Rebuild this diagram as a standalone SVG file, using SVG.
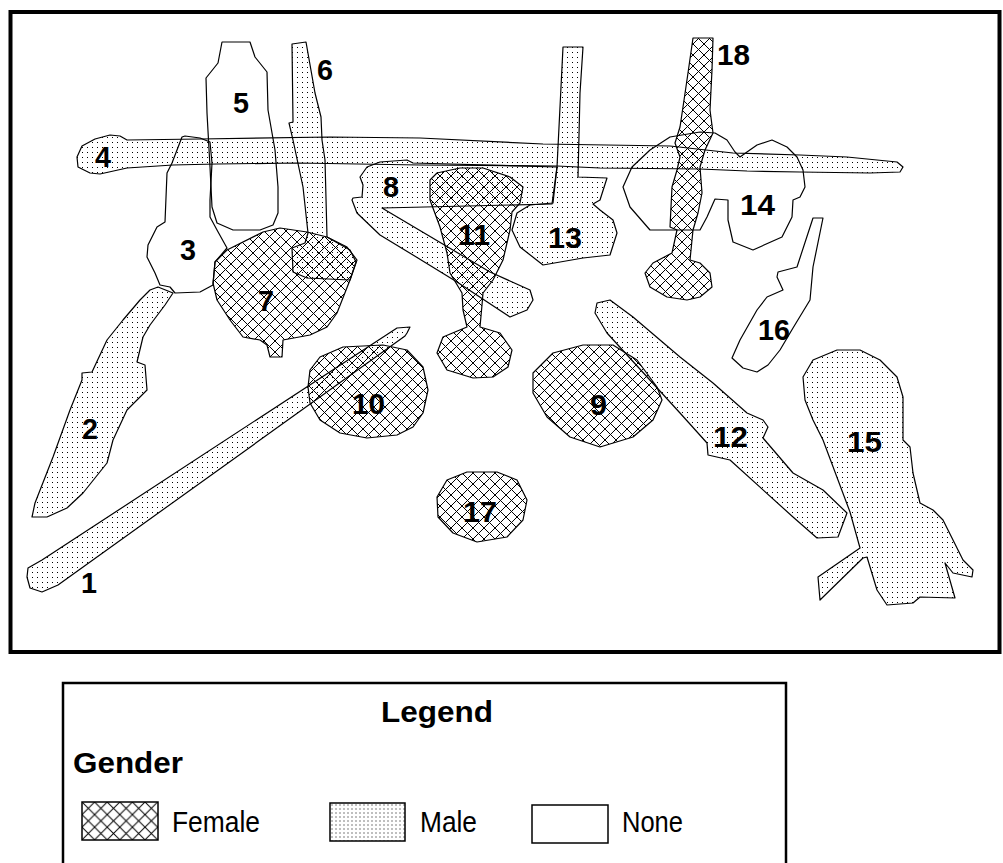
<svg xmlns="http://www.w3.org/2000/svg" width="1003" height="863" viewBox="0 0 1003 863">
<style>
.m{fill:url(#male);stroke:#000;stroke-width:1.2;stroke-linejoin:round}
.f{fill:url(#female);stroke:#000;stroke-width:1.2;stroke-linejoin:round}
.n{fill:none;stroke:#000;stroke-width:1.2;stroke-linejoin:round}
.lbl{font-family:"Liberation Sans",Arial,sans-serif;font-weight:bold;font-size:30px;fill:#000}
.lg{font-family:"Liberation Sans",Arial,sans-serif;font-size:29px;fill:#000}
</style>
<defs>
<pattern id="male" patternUnits="userSpaceOnUse" width="5" height="5">
<rect x="2" y="2" width="1" height="1" fill="#000"/>
</pattern>
<pattern id="male2" patternUnits="userSpaceOnUse" x="330" y="803" width="4" height="4">
<rect x="1.5" y="1.5" width="1" height="1" fill="#000"/>
</pattern>
<pattern id="female" patternUnits="userSpaceOnUse" width="11" height="11">
<path d="M-1,-1 L12,12 M12,-1 L-1,12" stroke="#000" stroke-width="1" fill="none"/>
</pattern>
<pattern id="female2" patternUnits="userSpaceOnUse" x="82" y="802" width="12.6" height="12.6">
<path d="M-1,-1 L13.6,13.6 M13.6,-1 L-1,13.6" stroke="#000" stroke-width="1" fill="none"/>
</pattern>
</defs>
<rect width="1003" height="863" fill="#fff"/>
<rect id="frame" x="10.5" y="12" width="989" height="640" fill="none" stroke="#000" stroke-width="4"/>

<g id="burial-4">
<polygon class="m" points="77,157 82,146 95,139 110,135 120,136 127,140 200,139 330,137 420,138 543,144 670,146 733,153 800,155 847,157 877,160 897,162 903,167 900,172 870,173 800,172 747,171 700,169 600,168 557,166 420,165 297,163 217,164 173,165 127,168 100,174 90,173 78,167"/>
<text class="lbl" x="95" y="167" textLength="16" lengthAdjust="spacingAndGlyphs">4</text>
</g>

<g id="burial-5">
<polygon class="n" points="222,42 250,42 255,57 267,72 268,110 275,150 278,187 278,213 273,225 260,230 233,230 217,223 212,207 210,167 207,113 206,78 218,63"/>
<text class="lbl" x="233" y="113" textLength="16" lengthAdjust="spacingAndGlyphs">5</text>
</g>

<g id="burial-3">
<polygon class="n" points="185,136 200,138 210,142 212,163 210,200 210,217 217,230 227,248 215,262 213,285 200,292 175,293 170,287 160,285 155,273 147,257 148,245 157,227 165,222 167,173 172,163 182,137"/>
<text class="lbl" x="180" y="260" textLength="16" lengthAdjust="spacingAndGlyphs">3</text>
</g>

<g id="burial-7">
<polygon class="f" points="227,250 263,232 280,228 307,232 327,237 347,247 357,260 350,280 337,313 327,327 310,335 283,340 282,357 270,357 267,345 260,340 243,337 230,320 217,300 213,283 215,262"/>
<text class="lbl" x="258" y="311" textLength="16" lengthAdjust="spacingAndGlyphs">7</text>
</g>

<g id="burial-6">
<polygon class="m" points="292,44 306,42 315,93 321,117 322,140 325,160 327,237 350,250 356,262 350,280 307,278 293,272 292,248 305,243 308,233 303,187 293,140 289,123 293,122"/>
<text class="lbl" x="317" y="80" textLength="16" lengthAdjust="spacingAndGlyphs">6</text>
</g>

<g id="burial-2">
<polygon class="m" points="158,287 173,293 165,305 150,325 143,337 137,362 145,365 147,390 137,400 127,410 113,440 107,463 83,493 67,508 47,517 32,517 35,503 53,457 70,410 82,380 82,373 92,372 107,340 123,320 140,300 150,290"/>
<text class="lbl" x="82" y="439" textLength="16" lengthAdjust="spacingAndGlyphs">2</text>
</g>

<g id="burial-1">
<polygon class="m" points="27,577 28,568 42,560 397,328 410,327 407,333 405,336 58,585 42,592 30,588"/>
<text class="lbl" x="81" y="593" textLength="16" lengthAdjust="spacingAndGlyphs">1</text>
</g>

<g id="burial-10">
<polygon class="f" points="310,370 320,357 343,347 383,345 407,350 423,367 428,390 423,413 413,427 397,435 367,438 340,433 320,420 310,403 308,387"/>
<text class="lbl" x="352" y="414" textLength="33" lengthAdjust="spacingAndGlyphs">10</text>
</g>

<g id="burial-8">
<polygon class="m" points="352,200 353,198 362,197 363,185 360,177 367,167 380,162 407,160 413,163 557,167 552,204 382,208 490,272 530,290 533,300 527,310 510,317 457,282 413,255 380,235 357,213"/>
<text class="lbl" x="383" y="197" textLength="16" lengthAdjust="spacingAndGlyphs">8</text>
</g>

<g id="burial-13">
<polygon class="m" points="563,47 583,47 580,93 578,177 607,178 600,200 593,204 600,210 613,220 617,233 610,255 583,258 543,265 520,247 512,230 517,213 530,205 553,203 557,167"/>
<text class="lbl" x="548" y="248" textLength="34" lengthAdjust="spacingAndGlyphs">13</text>
</g>

<g id="burial-11">
<polygon class="f" points="430,180 437,173 460,168 483,168 510,177 523,187 520,203 512,212 510,230 503,260 493,280 483,293 482,305 480,327 500,333 512,350 508,367 493,377 473,378 447,370 437,353 443,337 467,327 463,310 462,293 450,273 447,253 440,227 430,200"/>
<text class="lbl" x="458" y="245" textLength="32" lengthAdjust="spacingAndGlyphs">11</text>
</g>

<g id="burial-9">
<polygon class="f" points="533,373 553,353 583,345 613,345 637,360 657,387 662,400 653,420 633,437 600,447 570,437 547,417 533,393"/>
<text class="lbl" x="590" y="415" textLength="17" lengthAdjust="spacingAndGlyphs">9</text>
</g>

<g id="burial-17">
<polygon class="f" points="437,497 447,480 467,472 497,472 517,480 527,500 523,520 507,537 477,542 453,533 438,517"/>
<text class="lbl" x="463" y="522" textLength="34" lengthAdjust="spacingAndGlyphs">17</text>
</g>

<g id="burial-12">
<polygon class="m" points="597,303 610,300 633,317 680,357 713,383 747,413 763,420 768,427 763,438 793,473 823,490 847,513 838,537 817,538 793,517 730,460 708,455 707,443 680,413 607,333 595,313"/>
<text class="lbl" x="713" y="447" textLength="35" lengthAdjust="spacingAndGlyphs">12</text>
</g>

<g id="burial-14">
<polygon class="n" points="623,187 632,167 650,150 670,137 700,132 715,133 727,140 735,152 740,157 747,152 757,145 772,140 787,147 797,157 803,170 805,187 800,197 793,200 792,217 782,237 753,250 733,242 728,220 728,200 715,199 707,217 700,230 690,230 650,230 630,207"/>
<text class="lbl" x="740" y="215" textLength="35" lengthAdjust="spacingAndGlyphs">14</text>
</g>

<g id="burial-18">
<polygon class="f" points="693,38 713,38 712,70 710,110 713,133 705,150 700,167 702,193 698,213 693,230 690,260 700,263 710,273 712,287 700,297 687,300 667,297 650,287 645,273 653,263 672,253 677,230 670,227 672,187 677,170 680,157 675,143 680,127 683,107 688,73"/>
<text class="lbl" x="717" y="65" textLength="33" lengthAdjust="spacingAndGlyphs">18</text>
</g>

<g id="burial-16">
<polygon class="n" points="813,218 823,218 813,267 810,300 793,328 780,350 768,365 757,372 743,368 732,358 740,340 757,310 767,297 783,290 777,277 778,272 797,267"/>
<text class="lbl" x="758" y="340" textLength="32" lengthAdjust="spacingAndGlyphs">16</text>
</g>

<g id="burial-15">
<polygon class="m" points="803,377 813,360 837,350 860,350 880,360 897,377 903,397 903,440 910,447 913,473 920,503 933,510 943,520 963,560 973,570 972,577 953,573 945,563 955,598 920,597 913,603 887,605 877,590 867,557 863,558 820,600 818,577 860,548 850,512 823,440 813,420 805,400"/>
<text class="lbl" x="847" y="452" textLength="35" lengthAdjust="spacingAndGlyphs">15</text>
</g>

<g id="legend">
<rect x="63" y="683" width="723" height="200" fill="none" stroke="#000" stroke-width="2.5"/>
<text class="lg" x="381" y="722" font-weight="bold" font-size="34" textLength="112" lengthAdjust="spacingAndGlyphs">Legend</text>
<text class="lg" x="73" y="773" font-weight="bold" font-size="30" textLength="110" lengthAdjust="spacingAndGlyphs">Gender</text>
<rect x="82" y="802" width="76" height="38" fill="url(#female2)" stroke="#000" stroke-width="1.5"/>
<text class="lg" x="172" y="832" textLength="88" lengthAdjust="spacingAndGlyphs">Female</text>
<rect x="330" y="803" width="75" height="38" fill="url(#male2)" stroke="#000" stroke-width="1.5"/>
<text class="lg" x="420" y="832" textLength="57" lengthAdjust="spacingAndGlyphs">Male</text>
<rect x="532" y="805" width="76" height="38" fill="none" stroke="#000" stroke-width="1.5"/>
<text class="lg" x="622" y="832" textLength="61" lengthAdjust="spacingAndGlyphs">None</text>
</g>
</svg>
